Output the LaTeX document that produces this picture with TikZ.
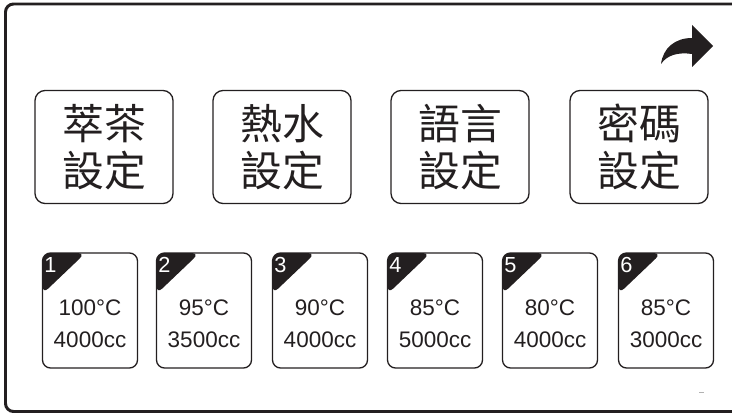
\documentclass[tikz,border=0pt]{standalone}
\usepackage{fontspec}
\setmainfont{Liberation Sans}
\newfontfamily\cjk{Noto Sans CJK TC}
\definecolor{ink}{HTML}{231F20}

\begin{document}
\begin{tikzpicture}[x=0.02cm,y=-0.02cm,
    menu/.style={draw=ink,line width=0.75pt,rounded corners=0.2cm,minimum width=2.76cm,minimum height=2.26cm,
        align=center,text=ink,font=\cjk\fontsize{23.8}{26.7}\selectfont},
    cup/.style={draw=ink,line width=0.75pt,rounded corners=0.16cm,minimum width=1.9cm,minimum height=2.3cm,
        path picture={\fill[ink] (path picture bounding box.north west)
            -- ([xshift=0.86cm]path picture bounding box.north west)
            -- ([yshift=-0.82cm]path picture bounding box.north west) -- cycle;}},
    tag/.style={text=white,font=\fontsize{12.4}{14}\selectfont,inner sep=0pt},
    info/.style={align=center,text=ink,font=\fontsize{12.8}{18.1}\selectfont,inner sep=0pt}]
    \useasboundingbox (0,0) rectangle (732,415);
    \clip (0,0) rectangle (732,415);
    \draw[ink,line width=1.7pt,rounded corners=0.16cm] (5.5,4) rectangle (780,411.5);
    % forward arrow
    \fill[ink] (692,25) -- (713,46) -- (692,67) -- (692,54)
        .. controls (678,52) and (667,55) .. (661,64)
        .. controls (663,48) and (675,38) .. (692,38) -- cycle;
    % settings buttons
    \node[menu] (m1) at (104,147) {萃茶\\設定};
    \node[menu] (m2) at (282,147) {熱水\\設定};
    \node[menu] (m3) at (460,147) {語言\\設定};
    \node[menu] (m4) at (639,147) {密碼\\設定};
    % presets
    \node[cup] (c1) at (90,310.5) {};
    \node[cup] (c2) at (204,310.5) {};
    \node[cup] (c3) at (320,310.5) {};
    \node[cup] (c4) at (435,310.5) {};
    \node[cup] (c5) at (550,310.5) {};
    \node[cup] (c6) at (666,310.5) {};
    \node[tag] (n1) at ([xshift=0.17cm,yshift=-0.25cm]c1.north west) {1};
    \node[tag] (n2) at ([xshift=0.17cm,yshift=-0.25cm]c2.north west) {2};
    \node[tag] (n3) at ([xshift=0.17cm,yshift=-0.25cm]c3.north west) {3};
    \node[tag] (n4) at ([xshift=0.17cm,yshift=-0.25cm]c4.north west) {4};
    \node[tag] (n5) at ([xshift=0.17cm,yshift=-0.25cm]c5.north west) {5};
    \node[tag] (n6) at ([xshift=0.17cm,yshift=-0.25cm]c6.north west) {6};
    \node[info] (t1) at (90,324) {100°C\\4000cc};
    \node[info] (t2) at (204,324) {95°C\\3500cc};
    \node[info] (t3) at (320,324) {90°C\\4000cc};
    \node[info] (t4) at (435,324) {85°C\\5000cc};
    \node[info] (t5) at (550,324) {80°C\\4000cc};
    \node[info] (t6) at (666,324) {85°C\\3000cc};
    \draw[gray!60,line width=0.4pt] (699,392) -- (704,392);
\end{tikzpicture}
\end{document}
